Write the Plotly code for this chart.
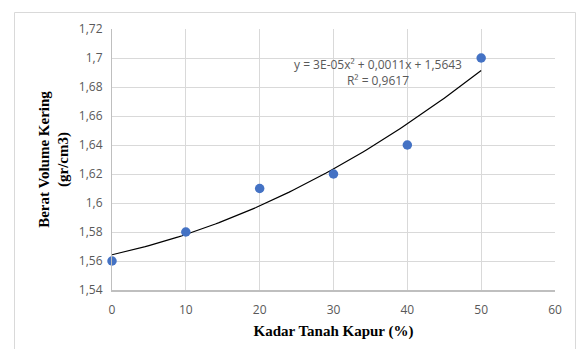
import numpy as np
import plotly.graph_objects as go

kadar = [0, 10, 20, 30, 40, 50]
berat = [1.56, 1.58, 1.61, 1.62, 1.64, 1.70]
y_ticks = [1.54, 1.56, 1.58, 1.60, 1.62, 1.64, 1.66, 1.68, 1.70, 1.72]
y_ticktext = ["1,54", "1,56", "1,58", "1,6", "1,62", "1,64", "1,66", "1,68", "1,7", "1,72"]
x_ticks = [0, 10, 20, 30, 40, 50, 60]
eq_text = "y = 3E-05x² + 0,0011x + 1,5643<br>R² = 0,9617"

coef = np.polyfit(kadar, berat, 2)
xs = np.linspace(min(kadar), max(kadar), 101)
ys = np.polyval(coef, xs)

fig = go.Figure()
fig.add_trace(go.Scatter(x=xs, y=ys, mode="lines",
                         line=dict(color="black", width=1.2), hoverinfo="skip"))
fig.add_trace(go.Scatter(x=kadar, y=berat, mode="markers", cliponaxis=False,
                         marker=dict(color="#4472C4", size=9.5)))

W, H = 576, 349
l, r, t, b = 112, 21, 29, 59
pw, ph = W - l - r, H - t - b

def px(xp):
    return (xp - l) / pw

def py(yp):
    return (H - b - yp) / ph

fig.add_shape(type="rect", xref="paper", yref="paper",
              x0=px(14.5), x1=px(575.5), y0=py(352), y1=py(12.5),
              line=dict(color="#d9d9d9", width=1), layer="below")

fig.add_annotation(x=36, y=1.690, xref="x", yref="y", text=eq_text,
                   showarrow=False, align="center",
                   font=dict(family="Open Sans", size=12, color="#595959"))

tick_font = dict(family="Open Sans", size=12, color="#595959")
fig.update_layout(
    width=W, height=H, margin=dict(l=l, r=r, t=t, b=b),
    paper_bgcolor="white", plot_bgcolor="white", showlegend=False,
    separators=",.",
    xaxis=dict(range=[0, 60], tickvals=x_ticks, showgrid=True, gridcolor="#d9d9d9",
               gridwidth=1, showline=True, linecolor="#bfbfbf", linewidth=1.5,
               zeroline=False, ticks="", ticklabelstandoff=8, tickfont=tick_font,
               title=dict(text="<b>Kadar Tanah Kapur (%)</b>", standoff=8,
                          font=dict(family="Liberation Serif", size=15, color="black"))),
    yaxis=dict(range=[1.54, 1.72], tickvals=y_ticks, ticktext=y_ticktext,
               showgrid=True, gridcolor="#d9d9d9", gridwidth=1,
               showline=True, linecolor="#bfbfbf", linewidth=1.2, zeroline=False,
               ticks="", ticklabelstandoff=6, tickfont=tick_font,
               title=dict(text="<b>Berat Volume Kering<br>(gr/cm3)</b>", standoff=6,
                          font=dict(family="Liberation Serif", size=15, color="black"))),
)
fig.write_html("out.html")
